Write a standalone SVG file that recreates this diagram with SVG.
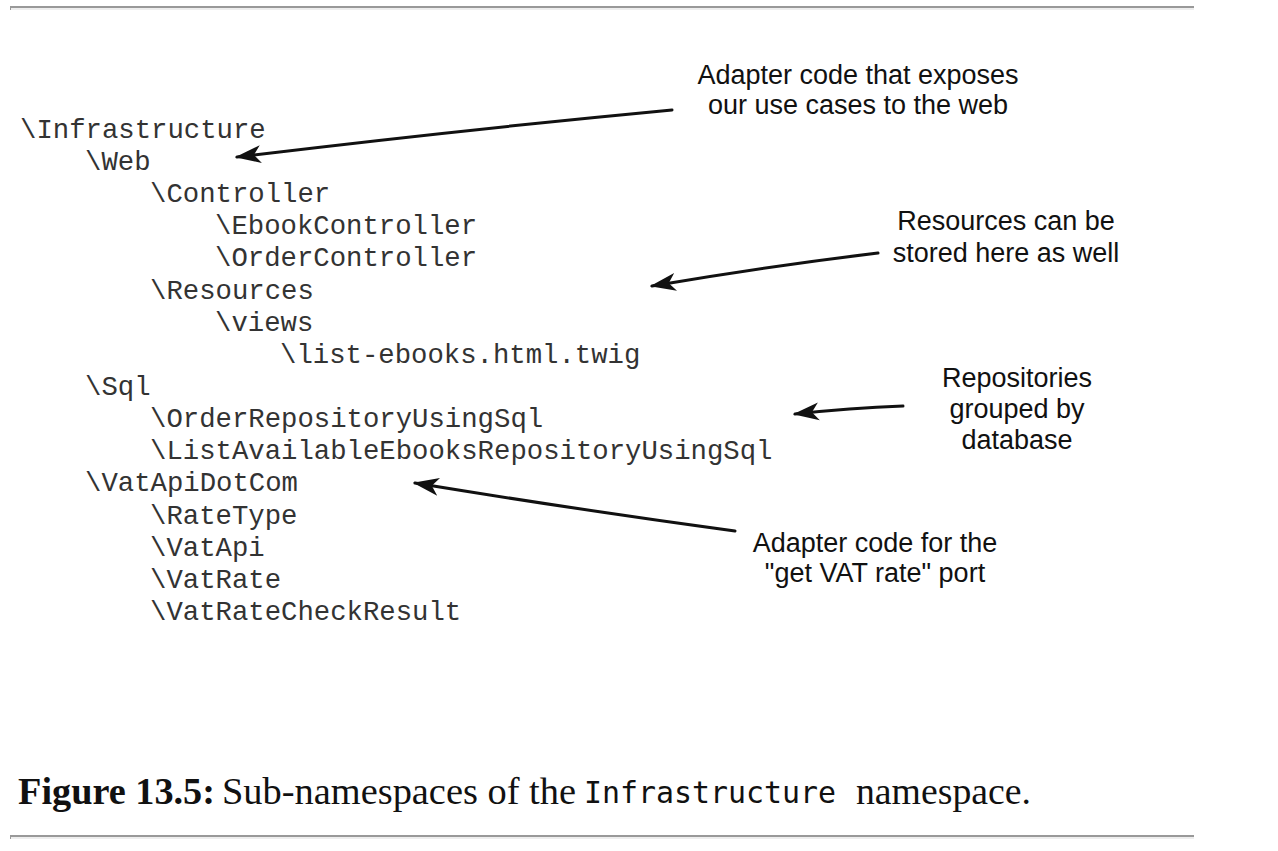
<svg xmlns="http://www.w3.org/2000/svg" width="1278" height="851" viewBox="0 0 1278 851">
<style>
.tree{font-family:"Liberation Mono","Courier New",monospace;font-size:27.3px;fill:#333}
.note{font-family:"Liberation Sans",Arial,sans-serif;font-size:27px;fill:#111;text-anchor:middle}
.arrow{fill:none;stroke:#111;stroke-width:3;stroke-linecap:round;marker-end:url(#head)}
.cap{font-family:"Liberation Serif","Times New Roman",serif;font-size:38px;fill:#111}
.capmono{font-family:"DejaVu Sans Mono",monospace;font-size:29.5px;fill:#111}
</style>
<defs>
<marker id="head" markerUnits="userSpaceOnUse" viewBox="0 0 26 20" refX="24" refY="10" markerWidth="26" markerHeight="20" orient="auto">
<path d="M0,1 L26,10 L0,19 L7,10 Z" fill="#111"/>
</marker>
</defs>
<rect width="1278" height="851" fill="#fff"/>
<g id="rules">
<rect x="10" y="6" width="1184" height="4" fill="#eee"/>
<rect x="10" y="6" width="1184" height="2" fill="#999"/>
<rect x="10" y="6" width="1" height="4" fill="#999"/>
<rect x="10" y="835" width="1184" height="4" fill="#eee"/>
<rect x="10" y="835" width="1184" height="2" fill="#999"/>
<rect x="10" y="835" width="1" height="4" fill="#999"/>
</g>
<g id="tree">
<text class="tree" x="20" y="138">\Infrastructure</text>
<text class="tree" x="85" y="170">\Web</text>
<text class="tree" x="150" y="202">\Controller</text>
<text class="tree" x="215" y="234">\EbookController</text>
<text class="tree" x="215" y="266">\OrderController</text>
<text class="tree" x="150" y="299">\Resources</text>
<text class="tree" x="215" y="331">\views</text>
<text class="tree" x="280" y="363">\list-ebooks.html.twig</text>
<text class="tree" x="85" y="395">\Sql</text>
<text class="tree" x="150" y="427">\OrderRepositoryUsingSql</text>
<text class="tree" x="150" y="459">\ListAvailableEbooksRepositoryUsingSql</text>
<text class="tree" x="85" y="491">\VatApiDotCom</text>
<text class="tree" x="150" y="524">\RateType</text>
<text class="tree" x="150" y="556">\VatApi</text>
<text class="tree" x="150" y="588">\VatRate</text>
<text class="tree" x="150" y="620">\VatRateCheckResult</text>
</g>
<g id="note-web">
<text class="note" x="858" y="84">Adapter code that exposes</text>
<text class="note" x="858" y="114">our use cases to the web</text>
</g>
<g id="note-resources">
<text class="note" x="1006" y="230">Resources can be</text>
<text class="note" x="1006" y="262">stored here as well</text>
</g>
<g id="note-repos">
<text class="note" x="1017" y="387">Repositories</text>
<text class="note" x="1017" y="418">grouped by</text>
<text class="note" x="1017" y="449">database</text>
</g>
<g id="note-vat">
<text class="note" x="875" y="552">Adapter code for the</text>
<text class="note" x="875" y="582">"get VAT rate" port</text>
</g>
<g id="connectors">
<path class="arrow" d="M672,110 Q460,130 237,157"/>
<path class="arrow" d="M878,253 Q770,266 652,286"/>
<path class="arrow" d="M903,406 Q850,408 795,414"/>
<path class="arrow" d="M735,531 Q580,510 415,483"/>
</g>
<g id="caption">
<text class="cap" x="18" y="804" font-weight="bold" textLength="197" lengthAdjust="spacingAndGlyphs">Figure 13.5:</text>
<text class="cap" x="222" y="804" textLength="354" lengthAdjust="spacingAndGlyphs">Sub-namespaces of the</text>
<text class="capmono" x="584" y="803" textLength="252" lengthAdjust="spacingAndGlyphs">Infrastructure</text>
<text class="cap" x="856" y="804" textLength="175" lengthAdjust="spacingAndGlyphs">namespace.</text>
</g>
</svg>
